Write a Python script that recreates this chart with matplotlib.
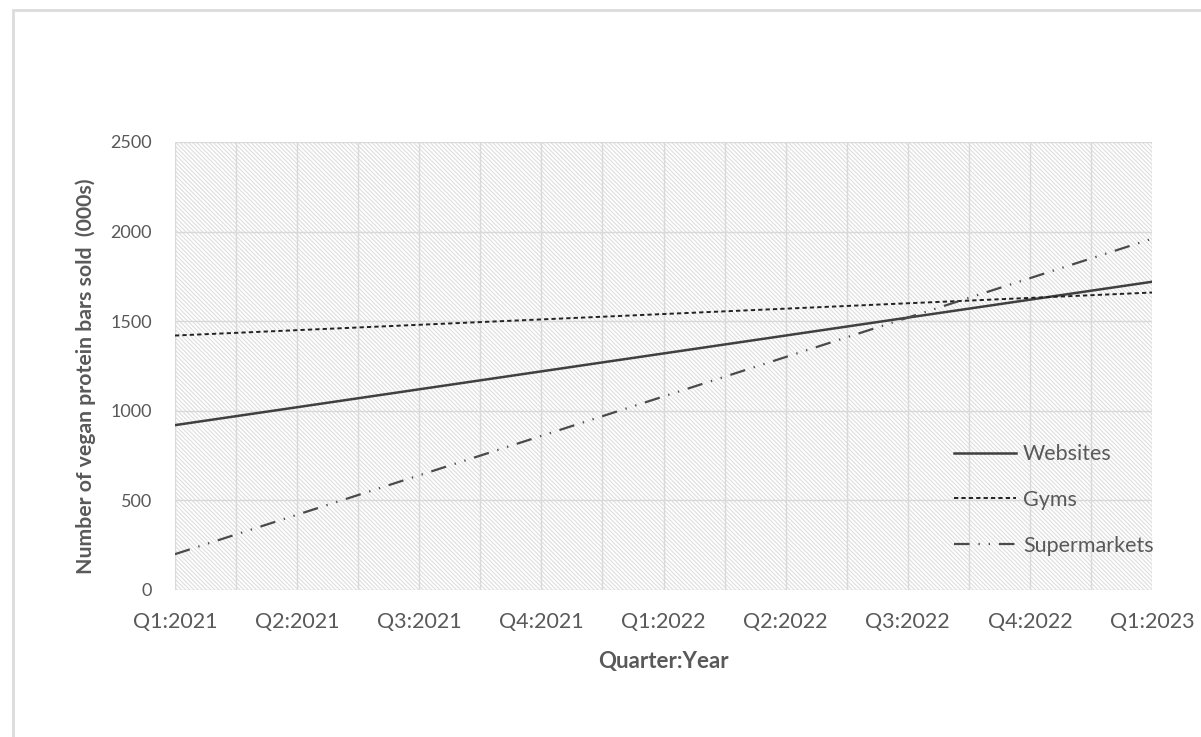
import matplotlib
matplotlib.use("Agg")
import matplotlib.pyplot as plt
from matplotlib.patches import Rectangle
from matplotlib.ticker import MultipleLocator

quarters = ["Q1:2021", "Q2:2021", "Q3:2021", "Q4:2021", "Q1:2022",
            "Q2:2022", "Q3:2022", "Q4:2022", "Q1:2023"]
websites = [920, 1020, 1120, 1220, 1320, 1420, 1520, 1620, 1720]
gyms = [1420, 1450, 1480, 1510, 1540, 1570, 1600, 1630, 1660]
supermarkets = [200, 420, 640, 860, 1080, 1300, 1520, 1740, 1960]
y_ticks = [0, 500, 1000, 1500, 2000, 2500]

plt.rcParams['font.family'] = ['Lato', 'DejaVu Sans']
plt.rcParams['hatch.linewidth'] = 0.8
txt = '#595959'
fs = 15.5

fig = plt.figure(figsize=(12.01, 7.37), dpi=100)
fig.patches.append(Rectangle((13/1201, -0.05), 1.2, 1 - 10/737 + 0.05,
                             transform=fig.transFigure, facecolor='none',
                             edgecolor='#dcdcdc', linewidth=2, zorder=0))
ax = fig.add_axes([175/1201, 1 - 590/737, (1152 - 175)/1201, (590 - 142)/737])

ax.add_patch(Rectangle((0, 0), 1, 1, transform=ax.transAxes, facecolor='white',
                       edgecolor='#dedede', hatch='\\' * 8, linewidth=0, zorder=0))

x = list(range(len(quarters)))
ax.plot(x, websites, color='#404040', lw=1.8, label='Websites', zorder=3)
ax.plot(x, gyms, color='#222222', lw=1.4, dashes=(2.2, 1.6), label='Gyms', zorder=3)
ax.plot(x, supermarkets, color='#4a4a4a', lw=1.6,
        dashes=(7, 4, 0.6, 4, 0.6, 4), label='Supermarkets', zorder=3)

ax.set_xlim(0, len(quarters) - 1)
ax.set_ylim(0, 2500)
ax.set_xticks(x)
ax.set_xticklabels(quarters)
ax.set_yticks(y_ticks)
ax.xaxis.set_minor_locator(MultipleLocator(0.5))
ax.grid(True, which='major', color='#d9d9d9', lw=1, zorder=1)
ax.grid(True, which='minor', axis='x', color='#d9d9d9', lw=1, zorder=1)
ax.set_axisbelow(True)
for s in ax.spines.values():
    s.set_visible(False)
ax.tick_params(which='both', length=0)
ax.tick_params(axis='x', pad=16, labelsize=fs, labelcolor=txt)
ax.tick_params(axis='y', pad=16.5, labelsize=13, labelcolor=txt)

ax.set_xlabel('Quarter:Year', fontsize=16, fontweight='bold', color=txt)
ax.xaxis.set_label_coords(0.5, (590 - 651) / 448)
ax.set_ylabel('Number of vegan protein bars sold  (000s)', fontsize=15.3,
              fontweight='bold', color=txt)
ax.yaxis.set_label_coords((96 - 175) / 977, (590 - 376.5) / 448)

leg = ax.legend(loc='center left', bbox_to_anchor=(954/1201, 1 - 500/737),
                bbox_transform=fig.transFigure, frameon=False, fontsize=fs,
                handlelength=2.9, handletextpad=0.3, labelspacing=1.2,
                borderpad=0, borderaxespad=0)
for t in leg.get_texts():
    t.set_color(txt)

fig.savefig('out.png', dpi=100)
